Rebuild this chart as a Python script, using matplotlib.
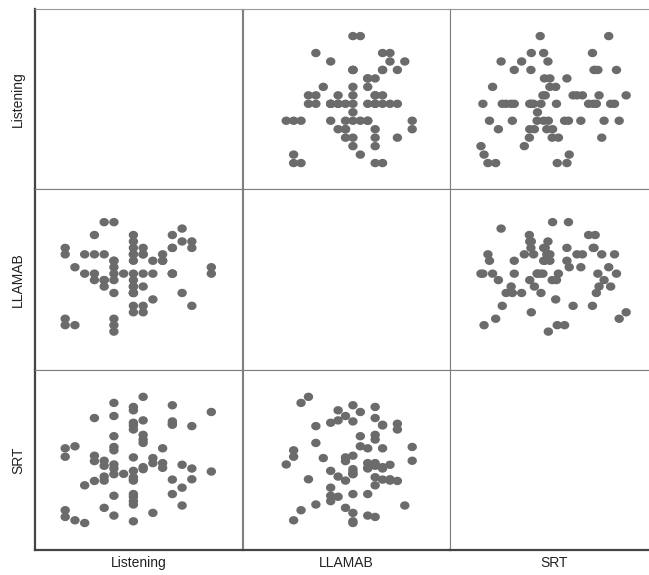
import matplotlib
matplotlib.use("Agg")
import numpy as np
import matplotlib.pyplot as plt
from matplotlib.path import Path

# one entry per subject
listening = [0, 0, 0, 0,
             1, 1,
             2, 2,
             3, 3, 3, 3,
             4, 4, 4, 4, 4,
             5, 5, 5, 5, 5, 5, 5, 5, 5, 5,
             6,
             7, 7, 7, 7, 7, 7, 7, 7, 7, 7, 7, 7, 7, 7, 7,
             8, 8, 8, 8, 8, 8, 8,
             9, 9, 9,
             10, 10, 10,
             11, 11, 11, 11, 11, 11,
             12, 12, 12,
             13, 13, 13,
             15, 15]
llamab = [13, 12, 2, 1,
          1, 10,
          9, 12,
          12, 9, 8, 15,
          17, 12, 7, 8, 8,
          2, 8, 10, 17, 1, 0, 11, 9, 6, 11,
          9,
          12, 7, 6, 13, 15, 8, 6, 12, 3, 14, 11, 7, 6, 4, 9,
          3, 7, 12, 12, 4, 9, 13,
          5, 11, 9,
          11, 12, 11,
          9, 9, 13, 15, 13, 9,
          16, 14, 6,
          4, 13, 14,
          10, 9]
srt = [13.1, 2.9, 3.9, 11.85,
       2.4, 13.4,
       2.0, 7.6,
       17.6, 12.0, 11.2, 8.25,
       11.25, 10.5, 8.9, 8.3, 4.25,
       19.85, 17.9, 14.9, 13.3, 12.8, 10.7, 10.1, 9.25, 6.05, 3.1,
       9.3,
       19.25, 18.75, 16.9, 16.5, 15.9, 11.75, 9.75, 8.8, 8.5, 8.3, 6.3, 5.9, 5.25, 4.75, 2.25,
       20.75, 17.25, 15.1, 14.4, 13.9, 10.0, 10.3,
       11.65, 10.9, 3.5,
       13.1, 10.9, 10.2,
       19.5, 17.1, 16.6, 16.75, 8.45, 6.3,
       4.6, 10.65, 7.25,
       16.4, 10.1, 8.5,
       18.5, 9.65]

names = ["Listening", "LLAMAB", "SRT"]
data = [listening, llamab, srt]
limits = [(-3.1, 18.2), (-5.9, 22.1), (-2.0, 24.8)]

# slightly wide dots, like the original
t = np.linspace(0, 2 * np.pi, 40)
dot = Path(np.column_stack([1.12 * np.cos(t), np.sin(t)]), closed=True)

W, H = 649, 575
fig = plt.figure(figsize=(W / 100, H / 100), dpi=100)

left, top = 35, 9
col_w = 207.5
row_h = 180.3
grid_col = "#7f7f7f"
frame_col = "#444444"

for i in range(3):
    for j in range(3):
        x0 = left + j * col_w
        y0 = top + (i + 1) * row_h
        ax = fig.add_axes([x0 / W, 1 - y0 / H, col_w / W, row_h / H])
        ax.set_xticks([])
        ax.set_yticks([])
        ax.set_xlim(limits[j])
        ax.set_ylim(limits[i])
        for s in ax.spines.values():
            s.set_color(grid_col)
            s.set_linewidth(0.8)
        if i == 0:
            ax.spines["top"].set_color("#999999")
        if j == 0:
            ax.spines["left"].set_color(frame_col)
            ax.spines["left"].set_linewidth(1.6)
        if i == 2:
            ax.spines["bottom"].set_color(frame_col)
            ax.spines["bottom"].set_linewidth(1.6)
        if i != j:
            ax.scatter(data[j], data[i], s=46, marker=dot, color="#6b6b6b",
                       edgecolors="none", zorder=2)
        if i == 2:
            fig.text((x0 + col_w / 2) / W, 1 - 563 / H, names[j],
                     ha="center", va="center", fontsize=10,
                     family="Liberation Sans", color="#222222")
        if j == 0:
            fig.text(18 / W, 1 - (top + (i + 0.5) * row_h) / H, names[i],
                     ha="center", va="center", rotation=90, fontsize=10,
                     family="Liberation Sans", color="#222222")

fig.savefig("out.png", dpi=100)
